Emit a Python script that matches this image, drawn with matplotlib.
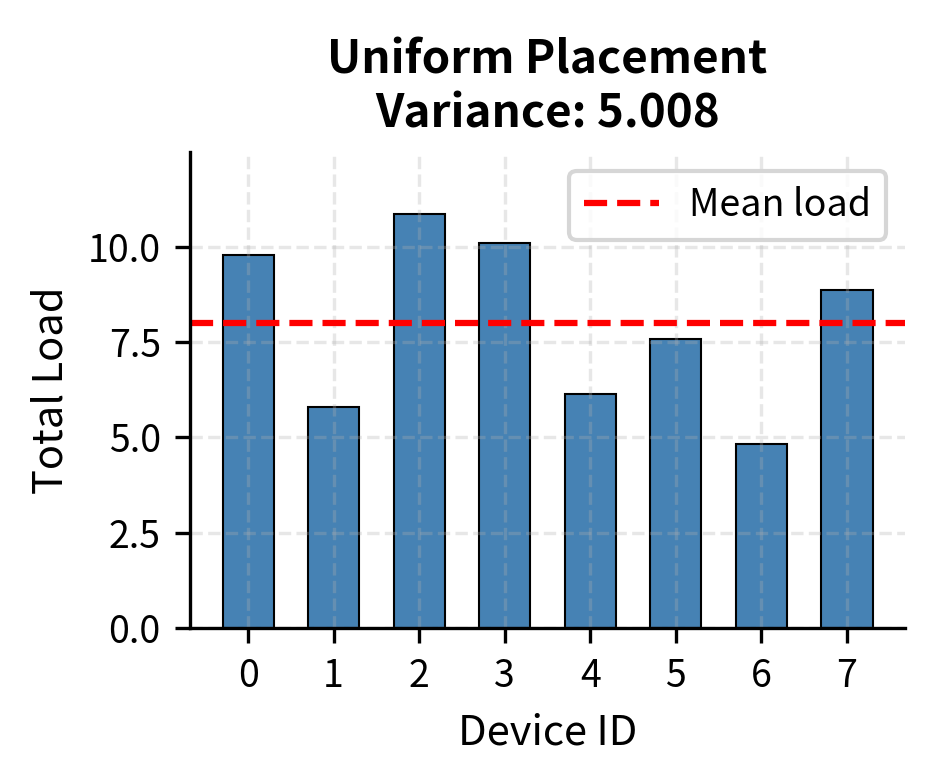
import numpy as np
import matplotlib
matplotlib.use("Agg")
import matplotlib.pyplot as plt

plt.rcParams['font.family'] = ['Noto Sans CJK SC', 'DejaVu Sans']

# data
device_ids = [0, 1, 2, 3, 4, 5, 6, 7]
total_load = [9.79, 5.79, 10.86, 10.10, 6.15, 7.59, 4.82, 8.87]
title_text = "Uniform Placement\nVariance: 5.008"

mean_load = np.mean(total_load)

fig = plt.figure(figsize=(934 / 300, 784 / 300), dpi=300)
ax = fig.add_axes([190 / 934, 1 - 628 / 784, (905 - 190) / 934, (628 - 152) / 784])

ax.bar(device_ids, total_load, width=0.6, color='steelblue',
       edgecolor='black', linewidth=0.5)
ax.axhline(mean_load, color='red', linestyle='--', linewidth=1.5, label='Mean load')

ax.set_ylim(0, max(total_load) * 1.15)
ax.set_xticks(device_ids)
ax.set_xlabel('Device ID', fontsize=10)
ax.set_ylabel('Total Load', fontsize=10)
ax.set_title(title_text, fontsize=11, fontweight='bold')
ax.tick_params(labelsize=9)
ax.grid(True, linestyle='--', alpha=0.3)
ax.spines['top'].set_visible(False)
ax.spines['right'].set_visible(False)
ax.legend(loc='upper right', fontsize=9)

fig.savefig('out.png', dpi=300)
